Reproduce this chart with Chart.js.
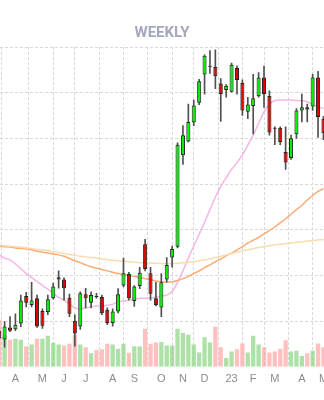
<!DOCTYPE html>
<html>
<head>
<meta charset="utf-8">
<script src="https://cdn.jsdelivr.net/npm/chart.js@4.4.0/dist/chart.umd.min.js"></script>
<style>
html, body { margin: 0; padding: 0; background: #fff; }
#wrap { width: 324px; height: 400px; }
</style>
</head>
<body>
<div id="wrap"><canvas id="myChart"></canvas></div>
<script>
// weekly candles, oldest first (one per week, first one is cut at the left edge)
const opens  = [7.9, 6.0, 8.6, 8.2, 9.5, 15.5, 13.5, 15.0, 12.2, 12.0, 15.0, 19.1, 19.1, 15.1, 10.1, 8.8, 15.9, 14.0, 15.5, 15.3,
                12.5, 9.6, 12.1, 17.8, 20.3, 14.4, 17.7, 26.8, 20.5, 15.0, 13.0, 19.1, 23.9, 26.3, 46.3, 49.3, 53.5, 57.8, 64.0, 65.9,
                65.6, 62.0, 60.6, 60.2, 65.4, 62.1, 55.8, 57.1, 59.2, 63.3, 59.3, 52.3, 52.3, 47.0, 45.7, 50.9, 56.1, 56.8, 57.0, 63.3, 54.3]
const closes = [6.2, 8.8, 7.9, 9.2, 14.5, 14.0, 14.5, 8.8, 9.0, 14.8, 17.6, 19.6, 17.2, 11.6, 7.3, 16.1, 15.0, 15.7, 15.3, 11.7,
                9.6, 12.1, 15.9, 20.5, 15.0, 17.6, 20.6, 21.4, 16.0, 13.5, 18.5, 22.3, 25.8, 48.6, 50.7, 53.6, 57.2, 62.5, 68.1, 65.7,
                63.6, 59.7, 61.5, 66.1, 62.8, 56.1, 57.4, 58.8, 63.3, 59.7, 51.3, 52.1, 49.2, 44.7, 50.0, 56.1, 56.8, 56.3, 63.3, 54.7, 51.1]
const highs  = [8.6, 9.9, 11.0, 11.6, 15.7, 16.3, 18.5, 15.7, 12.7, 15.7, 18.3, 21.0, 19.5, 15.9, 11.4, 16.4, 17.2, 16.4, 16.1, 15.7,
                12.9, 12.7, 17.1, 23.8, 20.7, 17.8, 21.8, 27.9, 21.8, 18.5, 20.4, 23.9, 26.4, 49.0, 52.8, 57.5, 58.4, 62.9, 68.3, 69.2,
                69.4, 63.1, 61.8, 66.5, 65.9, 62.8, 59.0, 64.0, 64.4, 65.8, 60.4, 52.5, 52.5, 52.5, 50.7, 56.5, 59.7, 57.5, 64.0, 64.7, 54.8]
const lows   = [5.6, 4.3, 7.7, 7.9, 8.8, 13.1, 13.1, 8.6, 8.4, 11.4, 14.8, 17.2, 14.6, 11.0, 4.5, 8.2, 12.9, 12.9, 15.0, 11.4,
                9.2, 8.9, 11.8, 17.5, 14.6, 13.2, 17.1, 21.0, 14.6, 13.3, 11.0, 18.5, 21.8, 26.0, 44.3, 49.2, 52.8, 57.4, 59.7, 64.2,
                60.9, 53.7, 59.0, 60.1, 59.7, 55.0, 54.3, 51.0, 59.0, 56.8, 50.7, 48.6, 48.6, 43.2, 45.4, 50.0, 53.6, 53.6, 56.1, 50.2, 49.7]
const volumes = [47.7, 32, 27.7, 28.7, 27.7, 21, 22.7, 28.7, 28.7, 31.7, 24.4, 22.7, 21.7, 23.4, 32.7, 22.7, 20, 13.7, 17, 18,
                 23.4, 22.7, 18.4, 23.4, 14.4, 21, 20.7, 38.7, 23.4, 24.7, 25.4, 21.7, 21.7, 38.7, 34.4, 32.7, 22.7, 14.7, 30, 24.7,
                 40.7, 20, 9, 15.7, 18, 23.7, 14.7, 31.7, 22.7, 20, 14.7, 15.7, 18.4, 27, 15.7, 16.4, 11, 13.7, 16.4, 23.7, 20]
const volUp = [0, 1, 0, 1, 1, 0, 1, 0, 1, 1, 1, 1, 0, 0, 0, 1, 0, 1, 0, 0,
               0, 1, 1, 1, 0, 1, 1, 0, 0, 0, 1, 1, 1, 1, 1, 1, 1, 1, 1, 1,
               0, 0, 1, 1, 0, 0, 1, 1, 1, 0, 0, 0, 0, 0, 1, 1, 1, 0, 1, 0, 0]
// moving averages
const maFast = [24.5, 23.8, 23.4, 22.5, 21.5, 20.4, 19.5, 18.7, 17.8, 17.0, 16.1, 15.2, 14.6, 13.7, 12.9, 12.7, 12.9, 13.1, 13.3, 13.3,
                13.5, 13.7, 14.2, 14.4, 14.6, 14.8, 15.0, 15.0, 15.1, 15.2, 15.5, 15.7, 16.5, 18.5, 21.0, 23.8, 26.4, 29.0, 31.6, 34.4,
                37.1, 39.5, 41.4, 43.2, 44.7, 46.4, 48.5, 50.7, 53.3, 55.8, 57.5, 58.3, 58.4, 58.4, 58.4, 58.3, 58.3, 58.0, 57.4, 56.9, 56.5]
const maMid  = [26.4, 26.3, 26.2, 26.0, 25.9, 25.8, 25.6, 25.3, 25.1, 24.9, 24.7, 24.5, 24.2, 23.7, 23.2, 22.8, 22.3, 21.9, 21.6, 21.3,
                21.0, 20.7, 20.4, 20.2, 20.0, 19.8, 19.5, 19.3, 19.1, 18.8, 18.6, 18.5, 18.6, 18.9, 19.3, 19.8, 20.4, 21.0, 21.7, 22.3,
                23.0, 23.6, 24.3, 24.9, 25.6, 26.3, 27.1, 27.7, 28.3, 29.1, 29.8, 30.6, 31.5, 32.4, 33.4, 34.4, 35.3, 36.5, 37.5, 38.4, 39.0]
const maSlow = [26.6, 26.5, 26.4, 26.3, 26.2, 26.0, 25.9, 25.7, 25.6, 25.4, 25.2, 25.0, 24.8, 24.6, 24.4, 24.2, 24.1, 23.9, 23.8, 23.6,
                23.5, 23.3, 23.2, 23.1, 23.0, 22.9, 22.8, 22.75, 22.7, 22.65, 22.6, 22.6, 22.6, 22.65, 22.75, 22.85, 23.0, 23.2, 23.4, 23.65,
                23.9, 24.2, 24.5, 24.8, 25.1, 25.4, 25.6, 25.85, 26.1, 26.3, 26.5, 26.7, 26.85, 27.0, 27.1, 27.25, 27.4, 27.5, 27.65, 27.75, 27.85]
// first week of each month (index into the arrays above)
const tickIdx = [3, 8, 12, 16, 21, 25, 30, 34, 38, 43, 47, 51, 56, 60]
const tickLabels = ["A", "M", "J", "J", "A", "S", "O", "N", "D", "23", "F", "M", "A", "M"]

const GRID = "#d9d9d9"
const pts = (arr) => arr.map((v, k) => ({ x: k, y: v }))

const bodies = opens.map((o, k) => ({ x: k, y: [o, closes[k]] }))
const wicks = lows.map((l, k) => ({ x: k, y: [l, highs[k]] }))
const bodyColors = opens.map((o, k) => closes[k] >= o ? "#00f200" : "#e60000")
const volColors = volUp.map(u => u ? "rgba(120,205,110,0.6)" : "rgba(255,150,150,0.6)")

new Chart(document.querySelector("#myChart"), {
    type: "bar",
    data: {
        datasets: [
            { type: "line", data: pts(maSlow), borderColor: "#f7dcae", borderWidth: 1.5, pointRadius: 0, tension: 0.3, order: 3 },
            { type: "line", data: pts(maMid), borderColor: "#f8ad76", borderWidth: 1.5, pointRadius: 0, tension: 0.3, order: 3 },
            { type: "line", data: pts(maFast), borderColor: "#f5b6e6", borderWidth: 1.5, pointRadius: 0, tension: 0.3, order: 3 },
            { data: pts(volumes), yAxisID: "yv", backgroundColor: volColors, barPercentage: 0.8, categoryPercentage: 1, grouped: false, order: 4 },
            { data: wicks, backgroundColor: "#505050", barThickness: 1, grouped: false, order: 2 },
            { data: bodies, backgroundColor: bodyColors, borderColor: "#222", borderWidth: 1, borderSkipped: false,
              barPercentage: 0.75, categoryPercentage: 1, grouped: false, order: 1 }
        ]
    },
    options: {
        responsive: true,
        maintainAspectRatio: false,
        animation: false,
        layout: { padding: { left: 0, right: 0, top: 0, bottom: 8 } },
        plugins: {
            legend: { display: false },
            tooltip: { enabled: false },
            title: {
                display: true,
                text: "WEEKLY",
                color: "#a3a8bd",
                font: { family: "Roboto", size: 15, weight: "bold" },
                padding: { top: 24, bottom: 5 }
            }
        },
        scales: {
            x: {
                type: "linear",
                min: 0.15,
                max: 60.1,
                offset: false,
                afterBuildTicks: (scale) => { scale.ticks = tickIdx.map(v => ({ value: v })) },
                afterFit: (scale) => { scale.paddingLeft = 0; scale.paddingRight = 0 },
                ticks: {
                    autoSkip: false,
                    maxRotation: 0,
                    padding: 6,
                    color: "#8c8c8c",
                    font: { family: "Liberation Sans", size: 11 },
                    callback: (v) => tickLabels[tickIdx.indexOf(v)]
                },
                grid: { color: GRID, drawTicks: false },
                border: { display: false, dash: [3, 2] }
            },
            y: {
                min: 0,
                max: 70,
                ticks: { display: false, stepSize: 10 },
                grid: { color: (c) => c.tick.value === 0 ? "transparent" : GRID, drawTicks: false },
                border: { display: false, dash: [3, 2] }
            },
            yv: { display: false, min: 0, max: 326 }
        }
    }
})
</script>
</body>
</html>
